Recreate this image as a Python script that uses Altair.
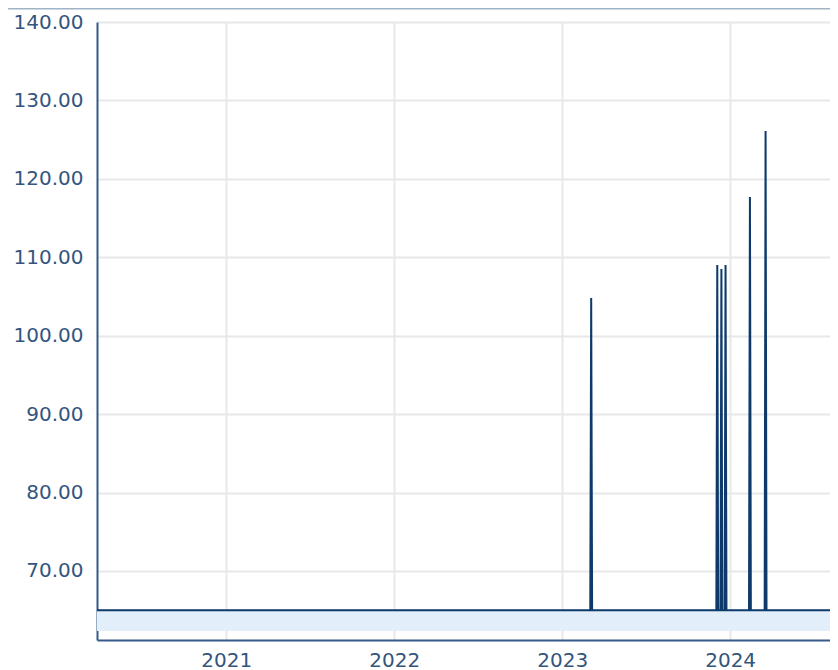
import altair as alt
import pandas as pd

dates = [
    "2020-01-01",
    "2023-03-03", "2023-03-05", "2023-03-07",
    "2023-12-02", "2023-12-04", "2023-12-06",
    "2023-12-11", "2023-12-13", "2023-12-15",
    "2023-12-20", "2023-12-22", "2023-12-24",
    "2024-02-11", "2024-02-13", "2024-02-15",
    "2024-03-16", "2024-03-18", "2024-03-20",
    "2024-08-31",
]
values = [
    65.0,
    65.0, 104.8, 65.0,
    65.0, 109.0, 65.0,
    65.0, 108.5, 65.0,
    65.0, 109.0, 65.0,
    65.0, 117.7, 65.0,
    65.0, 126.1, 65.0,
    65.0,
]
y_ticks = [70, 80, 90, 100, 110, 120, 130, 140]
x_domain = ["2020-03-26", "2024-08-05"]
y_domain = [61.2, 140]
area_floor = 62.35

df = pd.DataFrame({"date": dates, "value": values})

W, H = 733, 618
LABEL = "#34557d"
AXIS = "#36598a"

area = alt.Chart(df).mark_area(
    clip=True,
    color="#e2eef9",
    opacity=1,
    line={"color": "#0d3a6b", "strokeWidth": 2},
).encode(
    x=alt.X("date:T", scale=alt.Scale(domain=x_domain), title=None,
            axis=alt.Axis(format="%Y", tickCount="year", labelFlush=False)),
    y=alt.Y("value:Q", scale=alt.Scale(domain=y_domain, nice=False, zero=False), title=None,
            axis=alt.Axis(values=y_ticks, format=".2f")),
    y2=alt.datum(area_floor),
)

strip = alt.Chart(pd.DataFrame({"a": [0]})).mark_rect(color="#9fb4c6").encode(
    x=alt.value(-89), x2=alt.value(W + 10), y=alt.value(-14), y2=alt.value(-12.6)
)

chart = alt.layer(area, strip).properties(
    width=W, height=H,
    autosize=alt.AutoSizeParams(type="none"),
    padding={"left": 89, "top": 14, "right": 0, "bottom": 30},
).configure_view(stroke=None).configure_axis(
    labelFont="DejaVu Sans", labelFontSize=20, labelColor=LABEL,
    domainColor=AXIS, domainWidth=2, ticks=False,
    gridColor="#e8e8e8", gridWidth=2,
).configure_axisY(labelPadding=14).configure_axisX(labelPadding=10)

chart.save("out.html", embed_options={"renderer": "svg", "actions": False})
